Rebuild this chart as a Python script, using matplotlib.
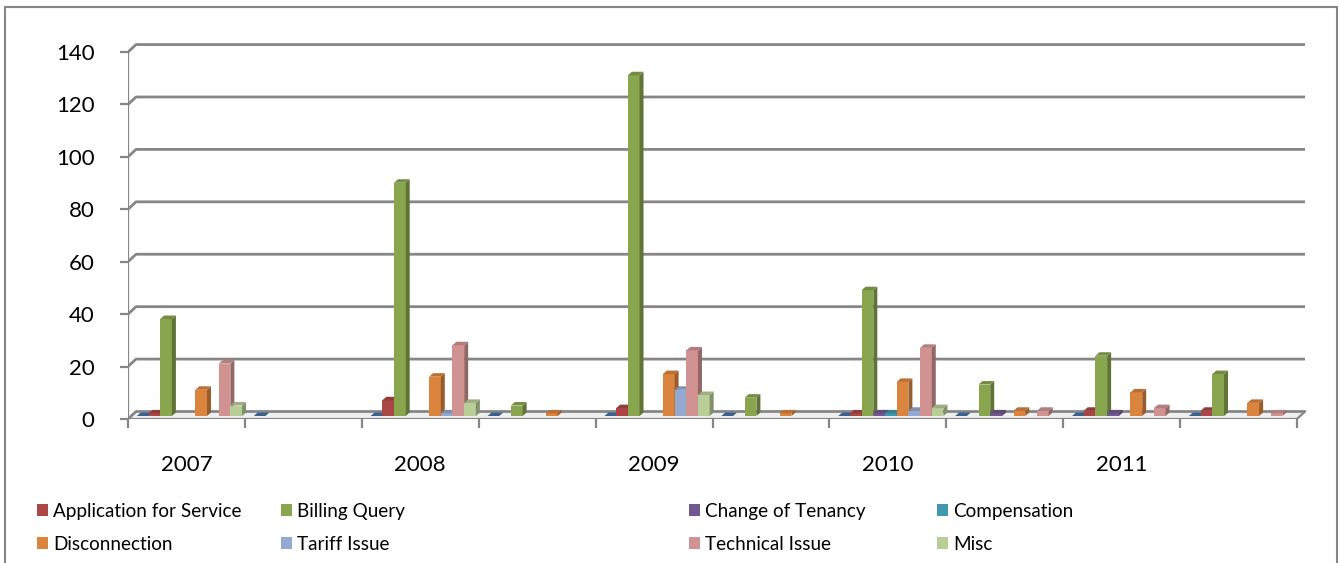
import numpy as np
import matplotlib.pyplot as plt
from matplotlib.patches import Polygon, Rectangle
from matplotlib.colors import to_rgb

plt.rcParams['font.family'] = ['Lato', 'DejaVu Sans']

# Data; NaN = no bar drawn
categories = ['2007', '', '2008', '', '2009', '', '2010', '', '2011', '']
series_names = ['', 'Application for Service', 'Billing Query', 'Change of Tenancy',
                'Compensation', 'Disconnection', 'Tariff Issue', 'Technical Issue', 'Misc']
n = np.nan
blank = [0, 0, 0, 0, 0, 0, 0, 0, 0, 0]
application = [1, n, 6, n, 3, n, 1, n, 2, 2]
billing = [37, n, 89, 4, 130, 7, 48, 12, 23, 16]
tenancy = [n, n, n, n, n, n, 1, 1, 1, n]
compensation = [n, n, n, n, n, n, 1, n, n, n]
disconnection = [10, n, 15, 1, 16, 1, 13, 2, 9, 5]
tariff = [n, n, 1, n, 10, n, 2, n, n, n]
technical = [20, n, 27, n, 25, n, 26, 2, 3, 1]
misc = [4, n, 5, n, 8, n, 3, n, n, n]
all_series = [blank, application, billing, tenancy, compensation,
              disconnection, tariff, technical, misc]
colors = ['#4572A7', '#AA4643', '#89A54E', '#71588F', '#4198AF',
          '#DB843D', '#93A9CF', '#D19392', '#B9CD96']

W, H = 1339, 563
fig = plt.figure(figsize=(W / 100, H / 100), dpi=100)

# pixel geometry of the plot area
px_unit_x = 116.9
px_unit_y = 2.621
x_left, y_zero = 128, 419
xmax, ymax = 10.12, 143.5
ax = fig.add_axes([x_left / W, (H - y_zero) / H,
                   xmax * px_unit_x / W, ymax * px_unit_y / H])
ax.set_xlim(0, xmax)
ax.set_ylim(0, ymax)
for s in ax.spines.values():
    s.set_visible(False)
ax.patch.set_alpha(0)

grid_c = '#868686'
wdx, wdy = 8 / px_unit_x, 7.5 / px_unit_y      # back wall offset
bdx, bdy = 3 / px_unit_x, 3 / px_unit_y        # bars sit mid-depth
ddx, ddy = 4 / px_unit_x, 3.5 / px_unit_y      # bar depth
ncat = len(categories)

# floor
ax.add_patch(Polygon([(0, 0), (ncat, 0), (ncat + wdx, wdy), (wdx, wdy)],
                     closed=True, facecolor='#efefef', edgecolor='none', zorder=0))
ax.plot([ncat, ncat + wdx], [0, wdy], color=grid_c, lw=1.6, zorder=1)

# back-wall gridlines
yticks = np.arange(0, 141, 20)
for t in yticks:
    ax.plot([0, wdx, ncat + wdx], [t, t + wdy, t + wdy], color=grid_c, lw=2.0,
            solid_capstyle='butt', zorder=1)

# front axes
ax.plot([0, 0], [0, 140], color=grid_c, lw=1.6, zorder=1)
ax.plot([0, ncat], [0, 0], color=grid_c, lw=1.6, zorder=1)


def shade(c, f):
    r, g, b = to_rgb(c)
    return (r * f, g * f, b * f)


bw = 0.1
for i in range(ncat):
    for k, vals in enumerate(all_series):
        v = vals[i]
        if np.isnan(v):
            continue
        c = colors[k]
        x0 = i + 0.05 + k * bw + bdx
        ax.bar(x0, v, width=bw, bottom=bdy, align='edge', color=c,
               edgecolor='none', zorder=3)
        ax.add_patch(Polygon([(x0 + bw, bdy), (x0 + bw + ddx, bdy + ddy),
                              (x0 + bw + ddx, bdy + ddy + v), (x0 + bw, bdy + v)],
                             closed=True, facecolor=shade(c, 0.7), edgecolor='none', zorder=3))
        ax.add_patch(Polygon([(x0, bdy + v), (x0 + bw, bdy + v),
                              (x0 + bw + ddx, bdy + v + ddy), (x0 + ddx, bdy + v + ddy)],
                             closed=True, facecolor=shade(c, 0.85), edgecolor='none', zorder=3))

# ticks
ax.set_yticks(yticks)
ax.set_yticklabels([str(t) for t in yticks], fontsize=16)
ax.tick_params(axis='y', length=6, width=1.6, color=grid_c, pad=18)
ax.set_xticks(np.arange(ncat) + 0.5)
ax.set_xticklabels(categories, fontsize=16)
ax.tick_params(axis='x', which='major', length=0, pad=26)
ax.set_xticks(np.arange(ncat + 1), minor=True)
ax.tick_params(axis='x', which='minor', length=6.5, width=1.6, color=grid_c)

# legend: four columns, two rows
col_x = [37, 281, 689, 937]
for j in range(4):
    hs = [Rectangle((0, 0), 1, 1, facecolor=colors[1 + j]),
          Rectangle((0, 0), 1, 1, facecolor=colors[5 + j])]
    fig.legend(handles=hs, labels=[series_names[1 + j], series_names[5 + j]],
               loc='upper left', bbox_to_anchor=(col_x[j] / W, (H - 503) / H),
               frameon=False, fontsize=13.6, handlelength=0.6, handleheight=0.6,
               handletextpad=0.27, labelspacing=0.85, borderpad=0, borderaxespad=0)

# outer frame
fig.patches.append(Rectangle((5 / W, -0.1), (1332) / W, 1.1 - 7 / H,
                             transform=fig.transFigure, fill=False,
                             edgecolor='#878787', lw=1.5))

fig.savefig('out.png', dpi=100)
